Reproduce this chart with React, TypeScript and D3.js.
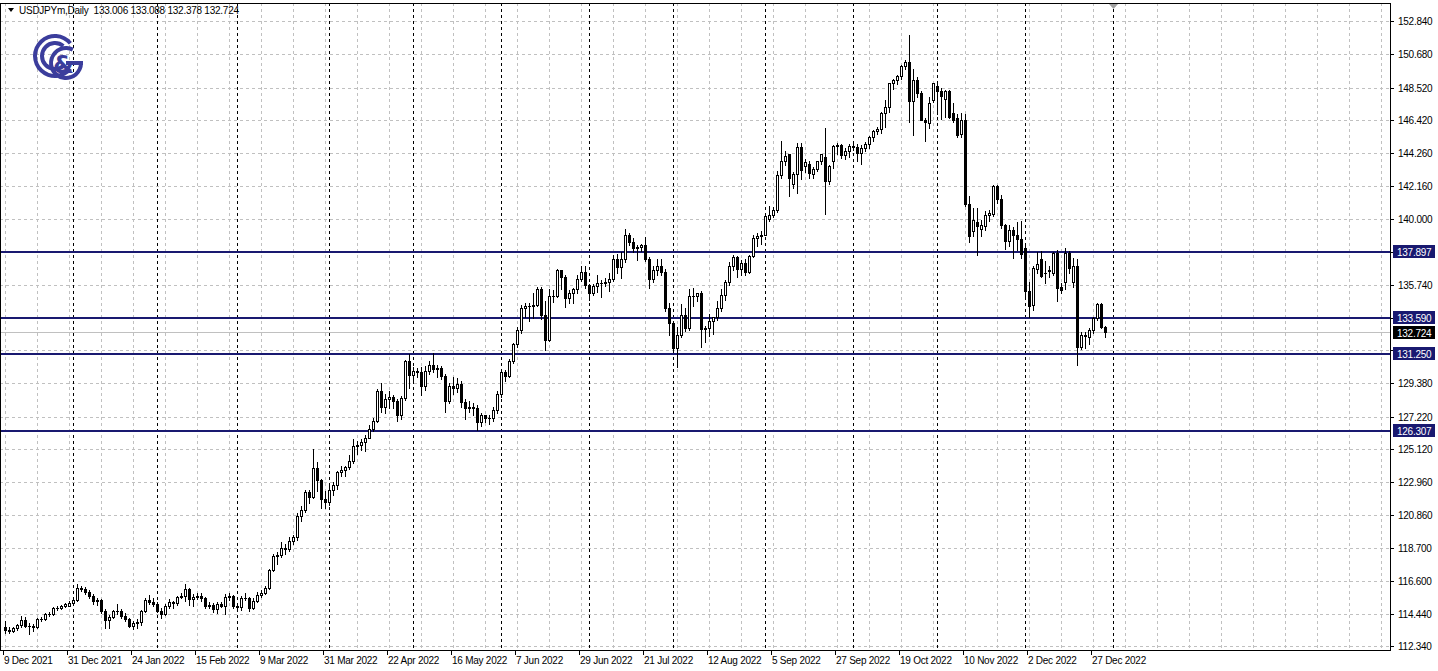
import React from 'react';
import * as d3 from 'd3';

// USDJPYm, Daily, 9 Dec 2021 .. 30 Dec 2022
const opens = [
  113.6, 113.38, 113.3, 113.5, 113.72, 114.05, 113.68, 113.66, 113.62, 114.1, 114.12, 114.45, 114.4, 114.85, 114.83, 114.95,
  114.98, 115.15, 115.32, 116.12, 116.08, 115.88, 115.58, 115.25, 115.35, 114.62, 114.05, 114.22, 114.6, 114.62, 114.3, 114.1,
  113.68, 113.85, 113.9, 114.65, 115.35, 115.22, 115.08, 114.62, 114.45, 114.98, 115.22, 115.12, 115.52, 115.6, 116.02, 115.4,
  115.55, 115.62, 115.45, 114.95, 115.0, 114.75, 115.05, 114.98, 115.52, 115.58, 114.95, 114.9, 115.5, 115.48, 114.85, 115.3,
  115.65, 115.82, 116.1, 117.28, 118.18, 118.28, 118.72, 118.62, 119.18, 119.45, 120.75, 121.18, 122.35, 122.02, 123.88, 123.1,
  121.88, 121.7, 122.48, 122.8, 123.62, 123.78, 123.95, 124.35, 125.3, 125.4, 125.6, 125.85, 126.4, 126.95, 128.9, 127.85,
  128.35, 128.5, 128.2, 127.3, 128.45, 130.8, 129.9, 130.15, 130.1, 129.2, 130.15, 130.55, 130.3, 130.38, 129.85, 128.25,
  129.2, 129.1, 129.35, 128.15, 127.75, 127.85, 127.78, 126.85, 127.3, 127.12, 127.1, 127.65, 128.65, 130.1, 129.82, 130.85,
  131.9, 132.85, 134.25, 134.38, 134.4, 134.45, 135.45, 133.8, 132.2, 135.0, 135.05, 136.7, 136.25, 134.9, 135.2, 135.45,
  136.15, 136.6, 135.72, 135.25, 135.68, 135.9, 135.85, 135.95, 136.1, 137.45, 136.88, 137.45, 138.95, 138.55, 138.15, 138.2,
  138.3, 137.4, 136.1, 136.7, 136.95, 136.6, 134.25, 133.3, 131.65, 132.5, 133.82, 132.95, 135.05, 135.02, 135.2, 132.9,
  132.95, 133.4, 133.65, 134.25, 135.1, 135.95, 136.95, 137.55, 136.8, 137.15, 136.6, 137.6, 138.8, 138.9, 139.0, 140.0,
  140.3, 140.6, 142.85, 143.75, 144.2, 142.3, 142.9, 144.65, 143.45, 143.55, 142.95, 143.25, 143.75, 144.05, 142.48, 143.75,
  144.75, 144.82, 144.15, 144.45, 144.72, 144.7, 144.3, 144.63, 144.85, 145.35, 145.72, 145.82, 146.9, 147.25, 148.8, 149.0,
  149.3, 149.95, 150.2, 147.65, 149.05, 148.2, 146.45, 146.25, 147.75, 148.6, 148.3, 147.8, 148.3, 146.9, 146.55, 145.5,
  146.45, 141.0, 139.25, 139.85, 139.34, 139.55, 140.3, 140.35, 142.15, 141.3, 139.65, 138.6, 139.3, 138.95, 138.7, 138.15,
  135.35, 134.45, 136.8, 137.4, 136.55, 136.7, 136.55, 137.8, 135.6, 135.95, 137.8, 135.95, 136.95, 131.75, 132.5, 132.37,
  132.85, 133.6, 134.5, 133.006,
];
const highs = [
  113.95, 113.6, 113.62, 113.8, 114.3, 114.25, 113.82, 113.78, 114.18, 114.25, 114.52, 114.55, 114.88, 114.98, 115.02, 115.15,
  115.25, 115.45, 116.35, 116.25, 116.18, 116.0, 115.72, 115.48, 115.4, 114.75, 114.35, 114.7, 115.05, 114.75, 114.5, 114.2,
  114.0, 114.1, 114.7, 115.48, 115.68, 115.45, 115.2, 114.8, 115.05, 115.4, 115.3, 115.6, 115.78, 116.35, 116.1, 115.75,
  115.8, 115.78, 115.55, 115.22, 115.15, 115.22, 115.22, 115.7, 115.78, 115.65, 115.15, 115.58, 115.8, 115.55, 115.45, 115.85,
  116.0, 116.22, 117.35, 118.35, 118.45, 119.1, 118.95, 119.4, 119.55, 120.95, 121.4, 122.45, 122.45, 125.1, 124.3, 123.2,
  122.4, 122.85, 122.95, 123.7, 124.05, 124.05, 124.7, 125.75, 125.65, 125.75, 126.0, 126.7, 127.1, 129.0, 129.4, 128.7,
  128.85, 128.62, 128.35, 128.55, 130.9, 131.25, 130.4, 130.35, 130.4, 130.5, 130.8, 131.35, 130.55, 130.5, 130.0, 129.4,
  129.75, 129.7, 129.55, 128.35, 128.2, 128.1, 127.95, 127.45, 127.35, 127.3, 127.85, 128.85, 130.2, 130.25, 130.95, 132.0,
  133.0, 134.45, 134.55, 134.55, 135.2, 135.6, 135.6, 134.7, 135.45, 135.4, 136.75, 136.72, 136.4, 135.4, 135.55, 136.4,
  137.0, 137.0, 135.8, 135.8, 136.4, 136.05, 136.2, 136.55, 137.7, 137.75, 137.88, 139.4, 139.1, 138.8, 138.35, 138.4,
  138.85, 137.55, 137.0, 137.45, 137.45, 136.75, 134.55, 133.4, 133.05, 134.5, 134.25, 135.5, 135.55, 135.25, 135.35, 133.1,
  133.85, 133.7, 134.7, 135.45, 136.05, 137.2, 137.7, 137.65, 137.35, 137.4, 137.7, 139.0, 139.1, 139.25, 140.25, 140.85,
  140.8, 143.1, 145.05, 144.4, 144.25, 143.05, 144.95, 144.95, 143.9, 143.75, 143.4, 143.8, 144.2, 145.9, 143.5, 144.8,
  144.95, 144.9, 144.6, 144.85, 145.1, 144.85, 144.8, 145.0, 145.4, 145.8, 146.0, 146.95, 147.7, 148.85, 149.1, 149.35,
  150.0, 150.3, 151.95, 149.7, 149.2, 148.3, 146.55, 147.9, 148.85, 148.8, 148.5, 148.35, 148.4, 147.55, 146.8, 146.85,
  146.8, 141.5, 140.75, 140.7, 139.95, 140.55, 140.6, 142.25, 142.25, 141.6, 139.7, 139.6, 139.5, 139.85, 139.9, 138.25,
  135.95, 137.0, 137.9, 137.95, 137.28, 137.0, 137.9, 138.0, 135.85, 138.15, 137.95, 137.5, 137.45, 132.7, 132.7, 132.95,
  133.65, 134.55, 134.55, 133.088,
];
const lows = [
  113.2, 113.22, 113.25, 113.42, 113.62, 113.6, 113.15, 113.3, 113.55, 113.98, 114.05, 114.3, 114.35, 114.7, 114.78, 114.88,
  114.92, 115.05, 115.25, 115.9, 115.7, 115.5, 115.05, 115.02, 114.5, 113.5, 113.5, 114.15, 114.45, 114.2, 113.95, 113.62,
  113.45, 113.55, 113.75, 114.55, 115.05, 114.95, 114.55, 114.15, 114.35, 114.85, 114.85, 115.02, 115.45, 115.3, 115.0, 114.95,
  115.4, 115.25, 114.8, 114.8, 114.55, 114.5, 114.9, 114.4, 115.35, 114.85, 114.6, 114.7, 115.35, 114.65, 114.75, 115.2,
  115.55, 115.75, 116.05, 117.2, 117.7, 118.15, 118.35, 118.5, 118.95, 119.25, 120.45, 121.05, 121.6, 121.95, 122.4, 121.3,
  121.3, 121.5, 122.15, 122.5, 123.35, 123.4, 123.85, 124.2, 124.8, 125.05, 125.0, 125.8, 126.3, 126.9, 127.5, 127.45,
  127.8, 127.8, 126.95, 127.05, 128.3, 129.05, 129.5, 129.75, 128.6, 128.95, 130.0, 130.1, 129.8, 129.65, 127.5, 128.1,
  128.7, 128.8, 127.85, 127.05, 127.5, 127.3, 126.35, 126.6, 126.85, 126.75, 126.95, 127.45, 128.5, 129.55, 129.75, 130.7,
  131.75, 132.65, 133.7, 133.4, 133.6, 134.35, 133.55, 131.5, 132.1, 134.65, 134.95, 135.5, 134.3, 134.6, 134.55, 135.25,
  136.0, 135.55, 134.75, 135.1, 135.3, 134.95, 135.7, 135.35, 136.0, 136.55, 136.2, 137.25, 138.35, 137.9, 137.35, 137.95,
  137.3, 135.55, 135.95, 136.4, 136.4, 134.05, 132.5, 131.55, 130.4, 132.35, 132.75, 132.8, 134.35, 134.7, 131.75, 132.05,
  132.45, 132.55, 133.5, 134.05, 134.8, 135.75, 136.7, 136.25, 136.4, 136.4, 136.5, 137.55, 138.25, 138.4, 138.95, 139.9,
  140.15, 140.5, 142.7, 143.5, 141.5, 142.0, 141.7, 142.6, 143.05, 142.65, 142.65, 143.1, 143.55, 140.35, 142.3, 143.3,
  144.25, 143.95, 143.9, 144.05, 144.5, 143.8, 143.55, 144.45, 144.6, 145.1, 145.55, 145.6, 146.0, 146.95, 148.45, 148.75,
  149.1, 149.7, 146.3, 145.45, 147.9, 146.4, 145.1, 145.9, 147.6, 146.8, 146.5, 146.6, 146.55, 146.3, 145.3, 145.3,
  140.85, 138.5, 138.9, 137.7, 138.9, 139.3, 139.9, 140.2, 141.05, 139.45, 138.05, 138.25, 137.5, 138.0, 137.5, 135.0,
  133.65, 134.1, 136.55, 136.25, 135.85, 136.25, 136.4, 134.7, 135.2, 135.5, 136.55, 135.6, 130.58, 131.6, 131.65, 131.9,
  132.6, 133.45, 132.95, 132.378,
];
const closes = [
  113.38, 113.3, 113.5, 113.72, 114.05, 113.68, 113.66, 113.62, 114.1, 114.12, 114.45, 114.4, 114.85, 114.83, 114.95, 115.08,
  115.15, 115.32, 116.12, 116.08, 115.88, 115.58, 115.25, 115.35, 114.62, 114.05, 114.22, 114.6, 114.62, 114.3, 114.1, 113.68,
  113.85, 113.9, 114.65, 115.35, 115.22, 115.08, 114.62, 114.45, 114.98, 115.22, 115.12, 115.52, 115.6, 116.02, 115.4, 115.55,
  115.62, 115.45, 114.95, 115.0, 114.75, 115.05, 114.98, 115.52, 115.58, 114.95, 114.9, 115.5, 115.48, 114.85, 115.3, 115.65,
  115.82, 116.1, 117.28, 118.18, 118.28, 118.72, 118.62, 119.18, 119.45, 120.75, 121.18, 122.35, 122.02, 123.88, 123.1, 121.88,
  121.7, 122.48, 122.8, 123.62, 123.78, 123.95, 124.35, 125.3, 125.4, 125.6, 125.85, 126.4, 126.95, 128.9, 127.85, 128.35,
  128.5, 128.2, 127.3, 128.45, 130.8, 129.9, 130.15, 130.1, 129.2, 130.15, 130.55, 130.3, 130.38, 129.85, 128.25, 129.2,
  129.1, 129.35, 128.15, 127.75, 127.85, 127.78, 126.85, 127.3, 127.12, 127.1, 127.65, 128.65, 130.1, 129.82, 130.85, 131.9,
  132.85, 134.25, 134.38, 134.4, 134.45, 135.45, 133.8, 132.2, 135.0, 135.05, 136.7, 136.25, 134.9, 135.2, 135.45, 136.15,
  136.6, 135.72, 135.25, 135.68, 135.9, 135.85, 135.95, 136.1, 137.45, 136.88, 137.45, 138.95, 138.55, 138.15, 138.2, 138.3,
  137.4, 136.1, 136.7, 136.95, 136.6, 134.25, 133.3, 131.65, 132.5, 133.82, 132.95, 135.05, 135.02, 135.2, 132.9, 132.95,
  133.4, 133.65, 134.25, 135.1, 135.95, 136.95, 137.55, 136.8, 137.15, 136.6, 137.6, 138.8, 138.9, 139.0, 140.22, 140.3,
  140.6, 142.85, 143.75, 144.1, 142.7, 142.9, 144.65, 143.2, 143.7, 143.02, 143.25, 143.75, 144.2, 142.48, 143.45, 144.75,
  144.82, 144.15, 144.45, 144.72, 144.7, 144.3, 144.63, 144.85, 145.35, 145.72, 145.82, 146.9, 147.25, 148.8, 149.0, 149.3,
  149.95, 150.2, 147.65, 149.05, 148.2, 146.45, 146.3, 147.5, 148.85, 148.3, 147.95, 148.3, 146.6, 146.45, 145.45, 146.45,
  141.0, 138.9, 139.95, 139.55, 139.6, 140.3, 140.4, 142.15, 141.3, 139.65, 138.6, 139.3, 138.95, 138.7, 137.75, 135.35,
  134.35, 136.85, 137.13, 136.35, 136.55, 136.62, 137.8, 135.55, 135.4, 137.8, 136.85, 136.95, 131.75, 132.5, 132.45, 132.85,
  133.6, 134.5, 133.05, 132.724,
];

// bottom scale: one label every 16 bars
const dateLabels = [
  '9 Dec 2021', '31 Dec 2021', '24 Jan 2022', '15 Feb 2022', '9 Mar 2022', '31 Mar 2022', '22 Apr 2022', '16 May 2022',
  '7 Jun 2022', '29 Jun 2022', '21 Jul 2022', '12 Aug 2022', '5 Sep 2022', '27 Sep 2022', '19 Oct 2022', '10 Nov 2022',
  '2 Dec 2022', '27 Dec 2022',
];
// bar index of first bar of each month (period separators)
const monthStarts = [17, 38, 58, 81, 102, 124, 146, 167, 190, 212, 233, 255, 277];

const priceTicks = [
  152.84, 150.68, 148.52, 146.42, 144.26, 142.16, 140.0, 137.87, 135.74, 133.62, 131.5, 129.38, 127.22, 125.12, 122.96,
  120.86, 118.7, 116.6, 114.44, 112.34,
];
const levels = [137.897, 133.59, 131.25, 126.307];
const lastPrice = 132.724;
const header = ['133.006', '133.088', '132.378', '132.724'];

const W = 1438;
const H = 671;
const left = 0;
const top = 3;
const right = 1390;
const bottom = 650;
const navy = '#191970';
const font = '"Liberation Sans", Arial, sans-serif';

function fmt(v: number) {
  return v.toFixed(3);
}

export default function App() {
  const x = d3.scaleLinear().domain([0, 275]).range([5, 1105]);
  const y = d3.scaleLinear().domain([112.34, 152.84]).range([646.3, 21]);
  const px = (i: number) => Math.round(x(i));
  const py = (v: number) => Math.round(y(v));

  const gridBars = d3.range(0, 400, 8).filter((i) => x(i) < right);
  const levelYs = levels.map(py).concat([py(lastPrice)]);

  // C&G logo pieces
  const arc = d3.arc();
  const cOuter = arc({ innerRadius: 18, outerRadius: 22, startAngle: 0.72 * Math.PI, endAngle: 2.28 * Math.PI }) as string;
  const cInner = arc({ innerRadius: 11, outerRadius: 15, startAngle: 0.78 * Math.PI, endAngle: 2.22 * Math.PI }) as string;
  const gArc = arc({ innerRadius: 13, outerRadius: 17, startAngle: 0.5 * Math.PI, endAngle: 2.15 * Math.PI }) as string;

  const lbl = { fontSize: 10, letterSpacing: -0.25 };

  return (
    <div style={{ position: 'absolute', left: 0, top: 0, width: W, height: H, background: '#fff' }}>
      <style>{'body{margin:0}'}</style>
      <svg width={W} height={H} style={{ display: 'block' }} fontFamily={font}>
        <rect x={0} y={0} width={W} height={H} fill="#fff" />

        {/* horizontal grid */}
        {priceTicks.map((p) => (
          <line key={'hg' + p} x1={left} x2={right} y1={py(p) + 0.5} y2={py(p) + 0.5} stroke="#c0c0c0" strokeDasharray="3,3" />
        ))}
        {/* vertical grid */}
        {gridBars.map((i) => (
          <line key={'vg' + i} x1={px(i) + 0.5} x2={px(i) + 0.5} y1={top} y2={bottom} stroke="#c0c0c0" strokeDasharray="3,3" />
        ))}
        {/* period separators */}
        {monthStarts.map((i) => (
          <line key={'ms' + i} x1={px(i) + 0.5} x2={px(i) + 0.5} y1={top} y2={bottom} stroke="#000" strokeDasharray="3,3" />
        ))}

        {/* horizontal levels */}
        {levels.map((p) => (
          <line key={'lv' + p} x1={left} x2={right} y1={py(p)} y2={py(p)} stroke={navy} strokeWidth={2} />
        ))}
        <line x1={left} x2={right} y1={py(lastPrice) + 0.5} y2={py(lastPrice) + 0.5} stroke="#c0c0c0" />

        {/* candles */}
        {closes.map((c, i) => {
          const o = opens[i];
          const cx = px(i);
          const yHi = py(Math.max(highs[i], o, c));
          const yLo = py(Math.min(lows[i], o, c));
          const yT = py(Math.max(o, c));
          const yB = py(Math.min(o, c));
          const up = c >= o;
          return (
            <g key={'c' + i}>
              <line x1={cx + 0.5} x2={cx + 0.5} y1={yHi} y2={yLo + 1} stroke="#000" />
              {yB - yT < 1 ? (
                <line x1={cx - 1} x2={cx + 2} y1={yT + 0.5} y2={yT + 0.5} stroke="#000" />
              ) : (
                <rect x={cx - 0.5} y={yT + 0.5} width={2} height={yB - yT} fill={up ? '#fff' : '#000'} stroke="#000" />
              )}
            </g>
          );
        })}

        {/* frame */}
        <rect x={left + 0.5} y={top + 0.5} width={right - left} height={bottom - top} fill="none" stroke="#000" />

        {/* price scale */}
        {priceTicks.map((p) => {
          const yy = py(p);
          const hidden = levelYs.some((ly) => Math.abs(ly - yy) < 9);
          return (
            <g key={'pt' + p}>
              <line x1={right} x2={right + 4} y1={yy + 0.5} y2={yy + 0.5} stroke="#000" />
              {!hidden && (
                <text x={1398} y={yy + 4} {...lbl} fill="#000">
                  {fmt(p)}
                </text>
              )}
            </g>
          );
        })}
        {levels.map((p) => (
          <g key={'ll' + p}>
            <rect x={right + 3} y={py(p) - 7} width={42} height={13} fill={navy} />
            <text x={1397} y={py(p) + 3.5} {...lbl} fill="#fff">
              {fmt(p)}
            </text>
          </g>
        ))}
        <rect x={right + 3} y={py(lastPrice) - 6} width={42} height={13} fill="#000" />
        <text x={1397} y={py(lastPrice) + 4.5} {...lbl} fill="#fff">
          {fmt(lastPrice)}
        </text>

        {/* time scale */}
        {dateLabels.map((d, k) => {
          const xx = px(k * 16);
          return (
            <g key={'dl' + k}>
              <line x1={xx - 1.5} x2={xx - 1.5} y1={bottom} y2={bottom + 5} stroke="#000" />
              <text x={xx - 1} y={664} {...lbl} fill="#000">
                {d}
              </text>
            </g>
          );
        })}

        {/* header */}
        <path d="M8,8 L14,8 L11,12 Z" fill="#000" />
        <text x={19} y={14} {...lbl} fill="#000" xmlSpace="preserve">
          {'USDJPYm,Daily  ' + header.join(' ')}
        </text>

        {/* chart shift marker */}
        <path d={`M${px(277) - 4},${top + 1} L${px(277) + 5},${top + 1} L${px(277) + 0.5},${top + 6} Z`} fill="#a0a0a0" />

        {/* logo */}
        <g fill="#3b3d9c">
          <path d={cOuter} transform="translate(55,56)" />
          <path d={cInner} transform="translate(55,56)" />
          <path d={gArc} transform="translate(66,63)" />
          <rect x={66} y={61} width={17} height={4} />
          <text x={53} y={73} fontSize={24} fontWeight="bold" fontFamily='"DejaVu Sans", sans-serif'>
            &amp;
          </text>
        </g>
      </svg>
    </div>
  );
}
